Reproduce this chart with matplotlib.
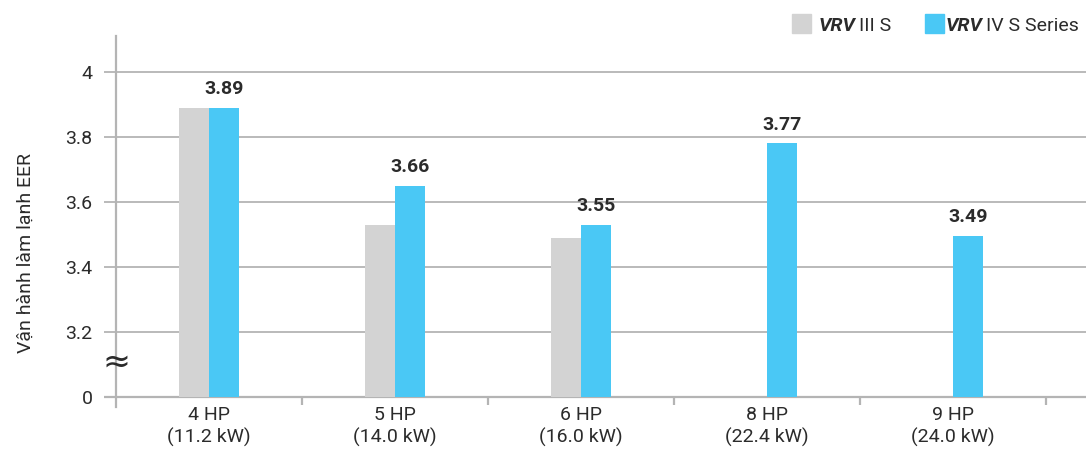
import numpy as np
import matplotlib
matplotlib.use("Agg")
import matplotlib.pyplot as plt
from matplotlib.patches import Rectangle

plt.rcParams['font.family'] = ['Roboto', 'DejaVu Sans']

# ---- data ----
categories = ["4 HP\n(11.2 kW)", "5 HP\n(14.0 kW)", "6 HP\n(16.0 kW)", "8 HP\n(22.4 kW)", "9 HP\n(24.0 kW)"]
vrv3_values = [3.89, 3.53, 3.49, np.nan, np.nan]
vrv4_values = [3.89, 3.65, 3.53, 3.78, 3.495]
vrv4_labels = ["3.89", "3.66", "3.55", "3.77", "3.49"]
ytick_values = [3.0, 3.2, 3.4, 3.6, 3.8, 4.0]
ytick_labels = ["0", "3.2", "3.4", "3.6", "3.8", "4"]
series_names = ["III S", "IV S Series"]
ylabel = "Vận hành làm lạnh EER"
axis_base = 3.0  # value drawn at the broken-axis "0" line

W, H = 1086, 458
fig = plt.figure(figsize=(W / 100, H / 100), dpi=100)
ax_l, ax_r, ax_t, ax_b = 116, 1086, 36, 407
ax = fig.add_axes([ax_l / W, 1 - ax_b / H, (ax_r - ax_l) / W, (ax_b - ax_t) / H])

px_per_unit_y = 325.0
px_per_cat = 186.0
ymin = 3.0 - (ax_b - 397) / px_per_unit_y
ymax = 4.0 + (72 - ax_t) / px_per_unit_y
xmax = (ax_r - ax_l) / px_per_cat
ax.set_xlim(0, xmax)
ax.set_ylim(ymin, ymax)

grey = "#d3d3d3"
blue = "#4ac8f5"
gridc = "#b4b4b4"
textc = "#2b2b2b"

# gridlines (extend left through tick area)
for v in ytick_values:
    ax.plot([-12 / px_per_cat, xmax], [v, v], color=gridc, lw=1.3 if v > 3.0 else 1.6,
            clip_on=False, zorder=1, solid_capstyle='butt')

x = np.arange(len(categories)) + 0.5
bw = 30 / px_per_cat
ax.bar(x - bw / 2, np.array(vrv3_values) - axis_base, width=bw, bottom=axis_base,
       color=grey, zorder=2)
ax.bar(x + bw / 2, np.array(vrv4_values) - axis_base, width=bw, bottom=axis_base,
       color=blue, zorder=2)

for xi, v, lab in zip(x, vrv4_values, vrv4_labels):
    ax.annotate(lab, (xi + bw / 2, v), xytext=(0, 7), textcoords='offset points',
                ha='center', va='bottom', fontsize=14, fontweight='bold', color=textc)

# category boundary ticks
ax.vlines(np.arange(1, len(categories) + 1), 3.0 - 8 / px_per_unit_y, 3.0,
          color=gridc, lw=1.6, clip_on=False, zorder=1)

for s in ['top', 'right', 'bottom']:
    ax.spines[s].set_visible(False)
ax.spines['left'].set_color(gridc)
ax.spines['left'].set_linewidth(1.6)

ax.set_yticks(ytick_values)
ax.set_yticklabels(ytick_labels)
ax.tick_params(axis='y', length=0, pad=17, labelsize=14, labelcolor=textc)
ax.set_xticks(x)
ax.set_xticklabels(categories, linespacing=1.3)
ax.tick_params(axis='x', length=0, pad=-1, labelsize=14, labelcolor=textc)

# axis break symbol
ax.text(0, 3.0 + 35 / px_per_unit_y, "≈", ha='center', va='center', fontsize=24,
        color=textc, clip_on=False, zorder=5, family=['DejaVu Sans'])

fig.text(26 / W, 1 - 253 / H, ylabel, rotation=90, ha='center', va='center',
         fontsize=14, color=textc)

# legend
fig.add_artist(Rectangle((792 / W, 1 - 33 / H), 19 / W, 19 / H, transform=fig.transFigure,
                         color=grey))
fig.add_artist(Rectangle((925 / W, 1 - 33 / H), 19 / W, 19 / H, transform=fig.transFigure,
                         color=blue))
fig.canvas.draw()
r = fig.canvas.get_renderer()
for x0, name in [(819, series_names[0]), (946, series_names[1])]:
    t1 = fig.text(x0 / W, 1 - 31 / H, "VRV", fontsize=14, fontweight='bold', style='italic',
                  color=textc, va='baseline')
    bb = t1.get_window_extent(renderer=r)
    fig.text((bb.x1 + 3) / W, 1 - 31 / H, name, fontsize=14, color=textc, va='baseline')

fig.savefig("out.png", dpi=100)
